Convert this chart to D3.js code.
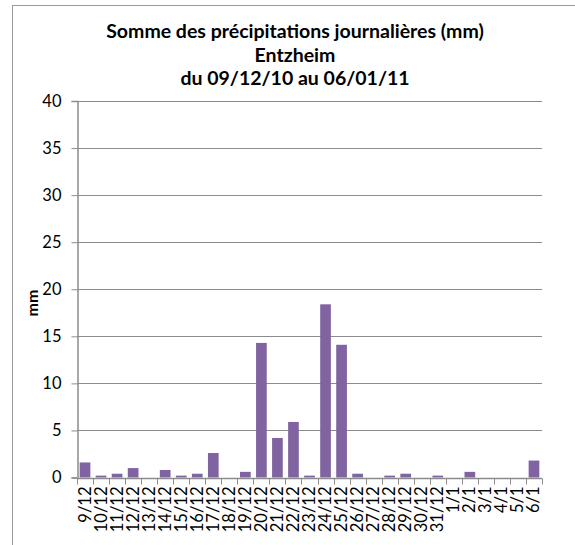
<!DOCTYPE html>
<html>
<head>
<meta charset="utf-8">
<script src="https://cdn.jsdelivr.net/npm/d3@7"></script>
<style>
  html, body { margin: 0; padding: 0; background: #fff; }
  svg { display: block; font-family: Lato, "Open Sans", sans-serif; }
</style>
</head>
<body>
<svg id="chart" width="575" height="545"></svg>
<script>
// Daily precipitation totals, Entzheim, 9 Dec 2010 – 6 Jan 2011
const days = ["9/12","10/12","11/12","12/12","13/12","14/12","15/12","16/12","17/12","18/12",
  "19/12","20/12","21/12","22/12","23/12","24/12","25/12","26/12","27/12","28/12",
  "29/12","30/12","31/12","1/1","2/1","3/1","4/1","5/1","6/1"];
const precipitation = [1.6,0.2,0.4,1.0,0,0.8,0.2,0.4,2.6,0,
  0.6,14.3,4.2,5.9,0.2,18.4,14.1,0.4,0,0.2,
  0.4,0,0.2,0,0.6,0,0,0,1.8];
const yTicks = [0,5,10,15,20,25,30,35,40];
const titleLines = ["Somme des précipitations journalières (mm)", "Entzheim", "du 09/12/10 au 06/01/11"];
const yTitle = "mm";

const svg = d3.select("#chart");
const plot = { left: 77, right: 542, top: 101, bottom: 477.5 };

// chart frame
svg.append("rect")
  .attr("x", 12.5).attr("y", 5.5)
  .attr("width", 600).attr("height", 600)
  .attr("fill", "none").attr("stroke", "#9a9a9a").attr("stroke-width", 1);

const x = d3.scaleBand().domain(days).range([plot.left, plot.right])
  .paddingInner(1/3).paddingOuter(1/6);
const y = d3.scaleLinear().domain([0, 40]).range([plot.bottom, plot.top]);

// horizontal gridlines
svg.append("g").selectAll("line").data(yTicks.filter(d => d > 0)).join("line")
  .attr("x1", plot.left).attr("x2", plot.right)
  .attr("y1", d => Math.round(y(d)) + 0.5).attr("y2", d => Math.round(y(d)) + 0.5)
  .attr("stroke", "#8c8c8c").attr("stroke-width", 1);

// bars
svg.append("g").selectAll("rect").data(precipitation).join("rect")
  .attr("x", (d, i) => x(days[i]))
  .attr("width", x.bandwidth())
  .attr("y", d => y(d))
  .attr("height", d => y(0) - y(d))
  .attr("fill", "#8064a2");

// y axis
const yAxis = svg.append("g")
  .attr("transform", `translate(${plot.left + 0.5},0)`)
  .call(d3.axisLeft(y).tickValues(yTicks).tickSize(6).tickPadding(10).tickFormat(d3.format("d")));
yAxis.select(".domain").attr("stroke", "#8c8c8c").attr("stroke-width", 1.5);
yAxis.selectAll(".tick line").attr("stroke", "#8c8c8c");
yAxis.selectAll(".tick text").attr("font-size", 16.5).attr("fill", "#000").attr("font-family", "Lato");

// x axis: ticks at category boundaries
const xAxisG = svg.append("g").attr("transform", `translate(0,${Math.round(plot.bottom) + 0.5})`);
xAxisG.append("line").attr("x1", plot.left).attr("x2", plot.right)
  .attr("stroke", "#8c8c8c").attr("stroke-width", 1.5);
const step = x.step();
xAxisG.selectAll("line.tk").data(d3.range(days.length + 1)).join("line")
  .attr("class", "tk")
  .attr("x1", i => Math.round(plot.left + i * step) + 0.5)
  .attr("x2", i => Math.round(plot.left + i * step) + 0.5)
  .attr("y1", 0).attr("y2", 6)
  .attr("stroke", "#8c8c8c");
xAxisG.selectAll("text").data(days).join("text")
  .attr("transform", d => `translate(${x(d) + x.bandwidth() / 2 + 5.5},8) rotate(-90)`)
  .attr("text-anchor", "end")
  .attr("font-size", 16.5)
  .attr("font-family", "Lato")
  .text(d => d);

// y axis title
svg.append("text")
  .attr("transform", "translate(38,303) rotate(-90)")
  .attr("text-anchor", "middle")
  .attr("font-weight", "bold").attr("font-size", 16)
  .text(yTitle);

// chart title
svg.append("g").selectAll("text").data(titleLines).join("text")
  .attr("x", 295).attr("y", (d, i) => 38 + i * 23.5)
  .attr("text-anchor", "middle")
  .attr("font-weight", "bold").attr("font-size", 19.5)
  .text(d => d);
</script>
</body>
</html>
